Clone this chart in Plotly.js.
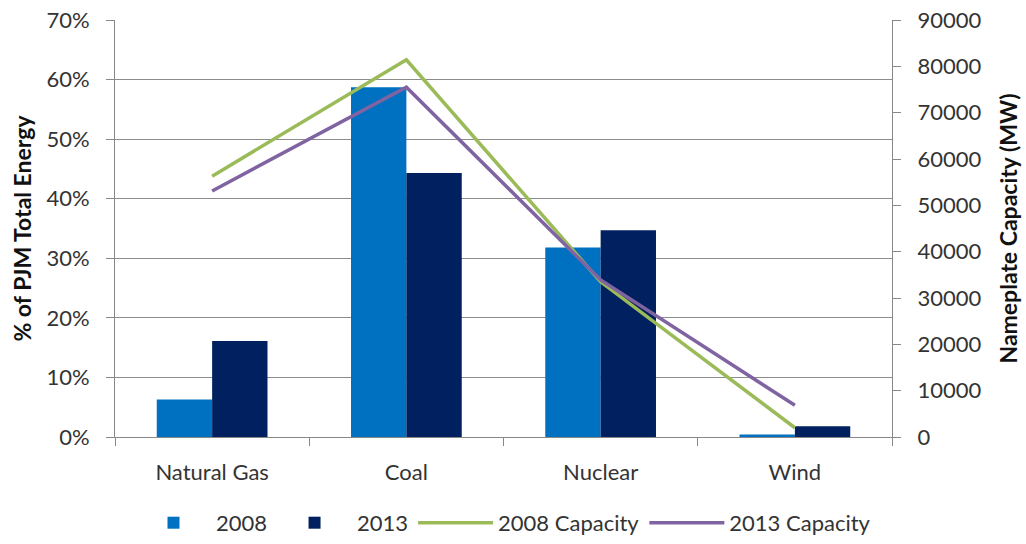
<!DOCTYPE html>
<html>
<head>
<meta charset="utf-8">
<script src="https://cdn.plot.ly/plotly-3.0.1.min.js"></script>
<style>html,body{margin:0;padding:0;background:#fff;}#chart{width:1026px;height:544px;}</style>
</head>
<body>
<div id="chart"></div>
<script>
const categories = ["Natural Gas", "Coal", "Nuclear", "Wind"];
const share2008 = [0.063, 0.587, 0.318, 0.004];
const share2013 = [0.161, 0.443, 0.347, 0.018];
const capacity2008 = [56300, 81400, 33500, 2000];
const capacity2013 = [53100, 75500, 33900, 6850];
const leftTicks = [0, 0.1, 0.2, 0.3, 0.4, 0.5, 0.6, 0.7];
const rightTicks = [0, 10000, 20000, 30000, 40000, 50000, 60000, 70000, 80000, 90000];

const fam = "Lato, 'Open Sans', sans-serif";
const font = {family: fam, size: 22, color: "#333"};
const titleFont = {family: fam, size: 23, color: "#111"};
const traces = [
  {type: "bar", name: "2008", x: categories, y: share2008, marker: {color: "#0070C0"}, yaxis: "y"},
  {type: "bar", name: "2013", x: categories, y: share2013, marker: {color: "#002060"}, yaxis: "y"},
  {type: "scatter", mode: "lines", name: "2008 Capacity", x: categories, y: capacity2008, line: {color: "#9BBB59", width: 3.5}, yaxis: "y2"},
  {type: "scatter", mode: "lines", name: "2013 Capacity", x: categories, y: capacity2013, line: {color: "#8064A2", width: 3.5}, yaxis: "y2"}
];
const layout = {
  width: 1026, height: 544,
  margin: {l: 115, r: 134, t: 20, b: 107, autoexpand: false},
  paper_bgcolor: "#fff", plot_bgcolor: "#fff",
  font: font,
  barmode: "group", bargap: 0.43, bargroupgap: 0,
  showlegend: true,
  legend: {orientation: "h", x: 0.5, xanchor: "center", y: -0.206, yanchor: "middle", font: font, traceorder: "normal", itemwidth: 75},
  xaxis: {
    type: "category", tickson: "boundaries", ticks: "outside", ticklen: 8, tickcolor: "#888",
    showline: true, linecolor: "#888", linewidth: 1, showgrid: false, tickfont: font, ticklabelstandoff: 16
  },
  yaxis: {
    range: [0, 0.7], tickvals: leftTicks, tickformat: ".0%", ticks: "outside", ticklen: 8, tickcolor: "#888",
    showline: true, linecolor: "#888", showgrid: true, gridcolor: "#8c8c8c", gridwidth: 1, zeroline: false,
    tickfont: font, ticklabelstandoff: 12,
    title: {text: "<b>% of PJM Total Energy</b>", font: titleFont, standoff: 8}
  },
  yaxis2: {
    range: [0, 90000], tickvals: rightTicks, overlaying: "y", side: "right", ticks: "outside", ticklen: 8, tickcolor: "#888",
    showline: true, linecolor: "#888", showgrid: false, zeroline: false, tickfont: font, tickformat: "d", ticklabelstandoff: 12,
    title: {text: "<b>Nameplate Capacity (MW)</b>", font: titleFont, standoff: 20}
  }
};
Plotly.newPlot("chart", traces, layout, {displayModeBar: false, staticPlot: true});
</script>
</body>
</html>
